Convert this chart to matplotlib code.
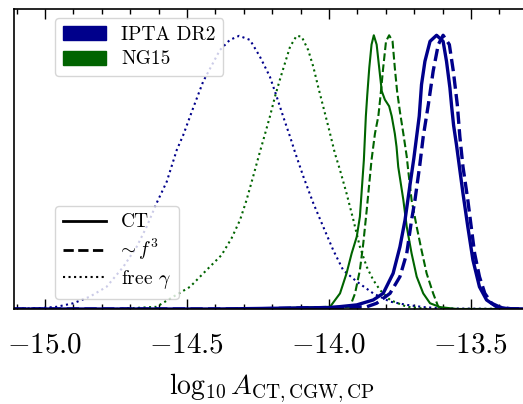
import numpy as np
import matplotlib
matplotlib.use("Agg")
import matplotlib.pyplot as plt
from matplotlib.patches import Patch
from matplotlib.lines import Line2D

plt.rcParams['font.family'] = 'serif'
plt.rcParams['font.serif'] = ['cmr10', 'DejaVu Serif']
plt.rcParams['mathtext.fontset'] = 'cm'
plt.rcParams['axes.formatter.use_mathtext'] = True
plt.rcParams['axes.unicode_minus'] = True

BLUE = '#00008B'
GREEN = '#006400'

# IPTA DR2, CT (solid)
ipta_ct_x = [-15.11, -14.4, -13.996, -13.902, -13.844, -13.809, -13.774, -13.750, -13.732, -13.715,
             -13.701, -13.682, -13.674, -13.662, -13.644, -13.621, -13.598, -13.586, -13.574,
             -13.568, -13.561, -13.551, -13.528, -13.511, -13.493, -13.470, -13.445, -13.410,
             -13.37, -13.29]
ipta_ct_y = [0.0, 0.0, 0.005, 0.015, 0.033, 0.057, 0.130, 0.227, 0.325, 0.450,
             0.550, 0.704, 0.819, 0.904, 0.977, 0.999, 0.977, 0.904, 0.807,
             0.740, 0.670, 0.600, 0.422, 0.300, 0.179, 0.081, 0.033, 0.008,
             0.001, 0.0]

# IPTA DR2, ~f^3 (dashed)
ipta_f3_x = [-15.11, -14.3, -13.867, -13.832, -13.785, -13.750, -13.726, -13.709, -13.697, -13.680,
             -13.668, -13.650, -13.633, -13.615, -13.598, -13.576, -13.562, -13.548, -13.539,
             -13.528, -13.511, -13.499, -13.487, -13.470, -13.451, -13.427, -13.398, -13.36,
             -13.29]
ipta_f3_y = [0.0, 0.0, 0.008, 0.021, 0.057, 0.118, 0.203, 0.325, 0.398, 0.526,
             0.629, 0.746, 0.868, 0.965, 0.999, 0.965, 0.868, 0.746, 0.629,
             0.519, 0.398, 0.300, 0.203, 0.118, 0.057, 0.021, 0.007, 0.001,
             0.0]

# IPTA DR2, free gamma (dotted)
ipta_fg_x = [-15.10, -15.02, -14.959, -14.900, -14.842, -14.783, -14.724, -14.677, -14.642, -14.607,
             -14.571, -14.536, -14.513, -14.478, -14.443, -14.384, -14.349, -14.316, -14.278,
             -14.243, -14.208, -14.184, -14.161, -14.137, -14.120, -14.090, -14.055, -14.020,
             -13.985, -13.950, -13.902, -13.844, -13.785, -13.726, -13.668, -13.60, -13.29]
ipta_fg_y = [0.001, 0.003, 0.008, 0.021, 0.045, 0.081, 0.154, 0.227, 0.300, 0.386,
             0.465, 0.580, 0.635, 0.734, 0.830, 0.945, 0.982, 0.997, 0.982,
             0.921, 0.848, 0.775, 0.702, 0.629, 0.574, 0.483, 0.386, 0.300,
             0.215, 0.142, 0.100, 0.057, 0.027, 0.015, 0.007, 0.002, 0.0]

# NG15, CT (solid)
ng_ct_x = [-14.3, -13.996, -13.961, -13.938, -13.920, -13.902, -13.891, -13.877, -13.870, -13.865,
           -13.858, -13.850, -13.842, -13.832, -13.823, -13.814, -13.803, -13.788, -13.779,
           -13.768, -13.762, -13.756, -13.738, -13.726, -13.709, -13.691, -13.668, -13.644,
           -13.609, -13.55, -13.29]
ng_ct_y = [0.0, 0.008, 0.057, 0.130, 0.203, 0.264, 0.337, 0.544, 0.704, 0.782,
           0.880, 0.965, 0.999, 0.965, 0.880, 0.795, 0.764, 0.740, 0.704,
           0.640, 0.592, 0.519, 0.398, 0.300, 0.203, 0.118, 0.057, 0.021,
           0.007, 0.0, 0.0]

# NG15, ~f^3 (dashed)
ng_f3_x = [-14.1, -13.926, -13.908, -13.891, -13.879, -13.867, -13.850, -13.838, -13.826, -13.818,
           -13.809, -13.799, -13.788, -13.776, -13.768, -13.760, -13.750, -13.738, -13.726,
           -13.721, -13.709, -13.691, -13.674, -13.656, -13.633, -13.615, -13.58, -13.29]
ng_f3_y = [0.0, 0.008, 0.057, 0.142, 0.240, 0.361, 0.544, 0.640, 0.704, 0.782,
           0.880, 0.977, 0.999, 0.977, 0.880, 0.795, 0.720, 0.640, 0.556,
           0.507, 0.398, 0.300, 0.215, 0.130, 0.057, 0.008, 0.0, 0.0]

# NG15, free gamma (dotted)
ng_fg_x = [-14.75, -14.607, -14.548, -14.489, -14.431, -14.378, -14.343, -14.313, -14.290, -14.267,
           -14.243, -14.231, -14.208, -14.190, -14.173, -14.155, -14.137, -14.114, -14.096,
           -14.073, -14.055, -14.038, -14.020, -14.002, -13.979, -13.961, -13.938, -13.914,
           -13.891, -13.867, -13.844, -13.820, -13.785, -13.726, -13.65]
ng_fg_y = [0.0, 0.008, 0.045, 0.081, 0.142, 0.197, 0.258, 0.325, 0.398, 0.483,
           0.574, 0.617, 0.702, 0.775, 0.836, 0.897, 0.957, 0.997, 0.994,
           0.945, 0.884, 0.811, 0.738, 0.665, 0.568, 0.507, 0.422, 0.325,
           0.227, 0.154, 0.106, 0.069, 0.033, 0.008, 0.0]

fig = plt.figure(figsize=(5.23, 4.04), dpi=100)
# axes runs past the right edge of the figure (right spine is cut off)
ax = fig.add_axes([14/523, 95/404, 516/523, 300/404])

ax.plot(ipta_fg_x, ipta_fg_y, color=BLUE, ls=':', lw=1.5)
ax.plot(ng_fg_x, ng_fg_y, color=GREEN, ls=':', lw=1.5)
ax.plot(ng_ct_x, ng_ct_y, color=GREEN, ls='-', lw=1.5)
ax.plot(ng_f3_x, ng_f3_y, color=GREEN, ls='--', lw=1.5)
ax.plot(ipta_ct_x, ipta_ct_y, color=BLUE, ls='-', lw=2.4)
ax.plot(ipta_f3_x, ipta_f3_y, color=BLUE, ls='--', lw=2.4)

ax.set_xlim(-15.109, -13.292)
ax.set_ylim(0, 300/274)
ax.set_yticks([])
ax.set_xticks([-15.0, -14.5, -14.0, -13.5])
ax.set_xticks(np.arange(-15.1, -13.25, 0.1), minor=True)
ax.tick_params(axis='x', which='both', direction='in', top=True, bottom=True, labelsize=21)
ax.tick_params(axis='x', which='major', length=7, width=1, pad=17)
ax.tick_params(axis='x', which='minor', length=3.5, width=1)
for s in ax.spines.values():
    s.set_linewidth(1.2)
ax.set_xlabel(r'$\log_{10} A_{\mathrm{CT,CGW,CP}}$', fontsize=20, labelpad=9)

h1 = [Patch(facecolor=BLUE, edgecolor=BLUE), Patch(facecolor=GREEN, edgecolor=GREEN)]
leg1 = ax.legend(h1, ['IPTA DR2', 'NG15'], loc='upper left', bbox_to_anchor=(41/516, 291/300),
                 borderaxespad=0, fontsize=14, handlelength=2.2, handleheight=0.75,
                 borderpad=0.4, labelspacing=0.35, handletextpad=0.8)
ax.add_artist(leg1)

h2 = [Line2D([], [], color='k', ls='-', lw=2),
      Line2D([], [], color='k', ls='--', lw=2),
      Line2D([], [], color='k', ls=':', lw=1.5)]
ax.legend(h2, ['CT', r'$\hspace{-0.3}\sim f^3$', r'free $\gamma$'], loc='lower left',
          bbox_to_anchor=(41/516, 10/300), borderaxespad=0, fontsize=14,
          handlelength=2.2, borderpad=0.4, labelspacing=0.3, handletextpad=0.8)

fig.savefig('out.png', dpi=100)
